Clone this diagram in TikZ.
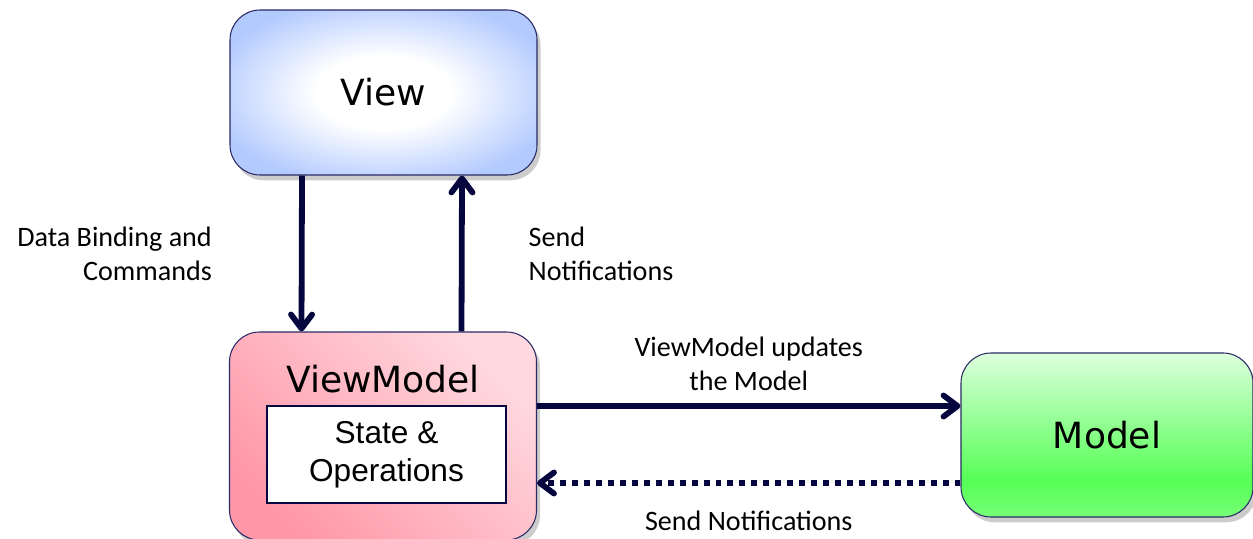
\documentclass[tikz,border=0pt]{standalone}
\usepackage{fontspec}
\setmainfont{Carlito}
\newfontfamily\boxfont{DejaVu Sans}
\newfontfamily\arialfont{Liberation Sans}
\usetikzlibrary{arrows.meta, positioning, shadows}
\definecolor{cnavy}{HTML}{06063F}
\definecolor{cedge}{HTML}{2A2A66}
\definecolor{cviewb}{HTML}{B3CAFF}
\definecolor{cpinkd}{HTML}{FF97A8}
\definecolor{cpinkl}{HTML}{FFD9DF}
\definecolor{cgreenl}{HTML}{DDFFDD}
\definecolor{cgreen}{HTML}{55FF55}
\definecolor{cgreenb}{HTML}{78FF78}
\pgfdeclareradialshading{viewshade}{\pgfpoint{0bp}{0bp}}{color(0bp)=(white); color(11bp)=(white); color(29bp)=(cviewb); color(50bp)=(cviewb)}
\pgfdeclareverticalshading{modelshade}{100bp}{color(0bp)=(cgreenb); color(25bp)=(cgreenb); color(36bp)=(cgreen); color(75bp)=(cgreenl); color(100bp)=(cgreenl)}
\tikzset{
  every picture/.style={line width=0.6pt},
  box/.style={draw=cedge, rounded corners=0.6cm, minimum width=6.14cm, minimum height=3.3cm, font=\boxfont\fontsize{20.5}{24}\selectfont, drop shadow={opacity=0.4, shadow xshift=2pt, shadow yshift=-3pt}},
  arrow/.style={-{Straight Barb[length=8pt, width=12pt, round]}, draw=cnavy, line width=3.3pt},
  dotarrow/.style={arrow, dash pattern=on 3.4pt off 3.4pt},
  note/.style={font=\fontsize{16}{19.3}\selectfont, inner sep=0pt},
}

\begin{document}
\begin{tikzpicture}
  \useasboundingbox (0,0) rectangle (25.06,10.76);
  \node[box, shading=viewshade] (view) at (7.67,8.91) {View};
  \node[box, minimum height=4.16cm, top color=cpinkl, bottom color=cpinkd, shading angle=-45] (vm) at (7.66,2.04) {};
  \node[font=\boxfont\fontsize{20.5}{24}\selectfont] (vmname) at ([yshift=-0.95cm]vm.north) {ViewModel};
  \node[draw=cnavy, fill=white, minimum width=4.78cm, minimum height=1.94cm, align=center, font=\arialfont\fontsize{18}{21.5}\selectfont] (state) at (7.73,1.67) {State \&\\Operations};
  \node[box, minimum width=5.84cm, minimum height=3.28cm, shading=modelshade] (model) at (22.14,2.06) {Model};
  \draw[arrow] ([xshift=-1.63cm]view.south) -- node[note, left=1.74cm, align=right] {Data Binding and\\Commands} ([xshift=-1.63cm]vm.north);
  \draw[arrow] ([xshift=1.57cm]vm.north) -- node[note, right=1.28cm, align=left] {Send\\Notifications} ([xshift=1.57cm]view.south);
  \draw[arrow] ([yshift=0.6cm]vm.east) -- node[note, above=0.25cm, align=center] {ViewModel updates\\the Model} ([yshift=0.6cm]vm.east -| model.west);
  \draw[dotarrow] ([yshift=-0.94cm]vm.east -| model.west) -- node[note, below=0.5cm] {Send Notifications} ([yshift=-0.94cm]vm.east);
\end{tikzpicture}
\end{document}
